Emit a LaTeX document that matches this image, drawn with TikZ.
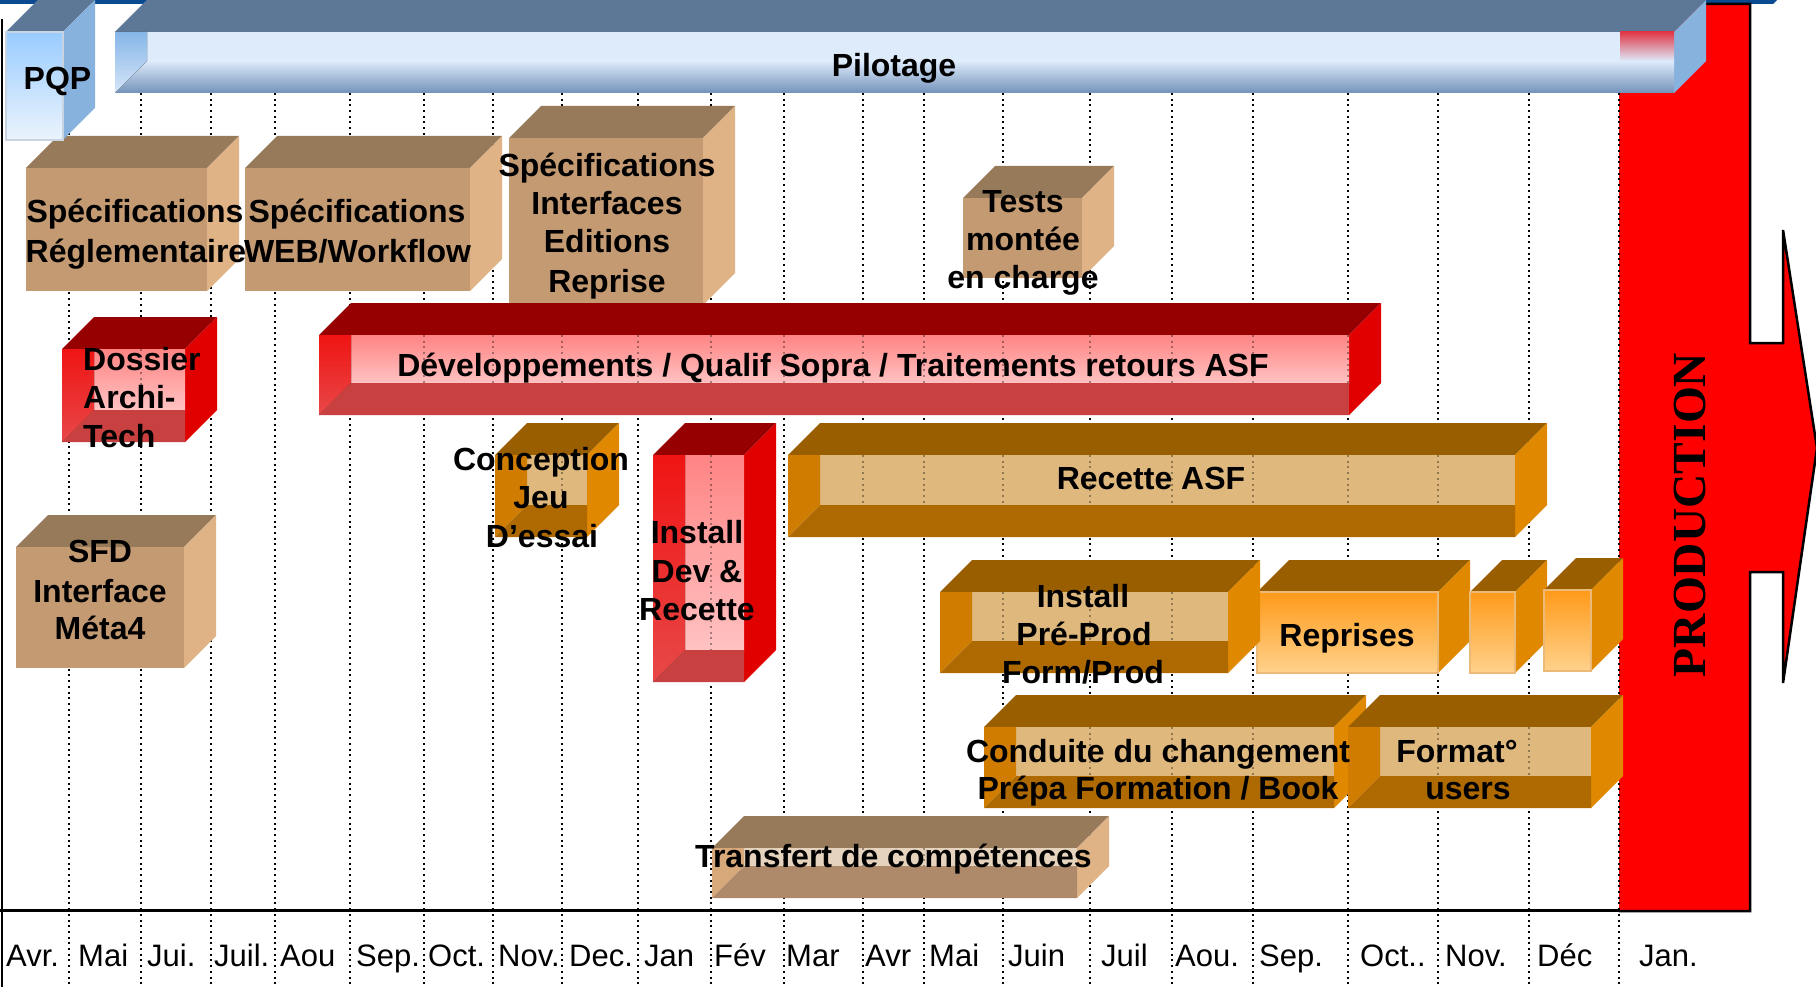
\documentclass[tikz,border=0pt]{standalone}
\usepackage{fontspec}
\setmainfont{Liberation Sans}
\newfontfamily\serifb{Liberation Serif}
\definecolor{tanF}{RGB}{196,154,115}
\definecolor{tanT}{RGB}{150,122,90}
\definecolor{tanS}{RGB}{223,179,134}
\definecolor{tanL}{RGB}{214,168,122}
\definecolor{tanB}{RGB}{174,138,106}
\definecolor{tanI}{RGB}{230,211,190}
\definecolor{redT}{RGB}{150,0,0}
\definecolor{redS}{RGB}{224,0,0}
\definecolor{redLa}{RGB}{240,20,20}
\definecolor{redLb}{RGB}{232,72,72}
\definecolor{redB}{RGB}{200,64,64}
\definecolor{pinkT}{RGB}{255,132,132}
\definecolor{pinkB}{RGB}{255,194,194}
\definecolor{orT}{RGB}{153,94,0}
\definecolor{orS}{RGB}{224,136,0}
\definecolor{orL}{RGB}{208,124,0}
\definecolor{orB}{RGB}{174,106,0}
\definecolor{orI}{RGB}{223,184,126}
\definecolor{orGa}{RGB}{255,154,26}
\definecolor{orGb}{RGB}{255,210,140}
\definecolor{orEdge}{RGB}{236,186,120}
\definecolor{bluT}{RGB}{93,120,150}
\definecolor{bluS}{RGB}{136,178,222}
\definecolor{bluFa}{RGB}{153,204,255}
\definecolor{bluFb}{RGB}{236,244,252}
\definecolor{bluI}{RGB}{221,235,251}
\definecolor{bluD}{RGB}{115,146,186}
\definecolor{bluLa}{RGB}{134,182,232}
\definecolor{bluLb}{RGB}{214,230,248}
\definecolor{bluEdge}{RGB}{200,212,226}
\definecolor{redTint}{RGB}{224,56,72}
\definecolor{navyline}{RGB}{10,74,144}
\definecolor{prodred}{RGB}{255,0,0}
\newcommand\bxd{32}
\newcommand\gridxs{69,141,211,275,350,424,493,562,638,711,784,863,924,1003,1090,1172,1253,1348,1438,1529,1619}
% solid box: x0 y0 x1 y1 front top side
\newcommand\solidbox[7]{%
  \fill[#6] (#1,#2) -- ({#1+\bxd},{#2-\bxd}) -- ({#3+\bxd},{#2-\bxd}) -- (#3,#2) -- cycle;
  \fill[#7] (#3,#2) -- ({#3+\bxd},{#2-\bxd}) -- ({#3+\bxd},{#4-\bxd}) -- (#3,#4) -- cycle;
  \fill[#5] (#1,#2) rectangle (#3,#4);}
% open tube box: x0 y0 x1 y1 top side leftwall bottomwall back
\newcommand\tubebox[9]{%
  \fill[#5] (#1,#2) -- ({#1+\bxd},{#2-\bxd}) -- ({#3+\bxd},{#2-\bxd}) -- (#3,#2) -- cycle;
  \fill[#6] (#3,#2) -- ({#3+\bxd},{#2-\bxd}) -- ({#3+\bxd},{#4-\bxd}) -- (#3,#4) -- cycle;
  \fill[#9] ({#1+\bxd},#2) rectangle (#3,{#4-\bxd});
  \begin{scope}
    \clip ({#1+\bxd},#2) rectangle (#3,{#4-\bxd});
    \foreach \gx in \gridxs {\draw[gridln,draw opacity=0.35] (\gx,#2) -- (\gx,#4);}
  \end{scope}
  \fill[#7] (#1,#2) -- ({#1+\bxd},#2) -- ({#1+\bxd},{#4-\bxd}) -- (#1,#4) -- cycle;
  \fill[#8] (#1,#4) -- ({#1+\bxd},{#4-\bxd}) -- (#3,{#4-\bxd}) -- (#3,#4) -- cycle;}
\newcommand\tanbox[4]{\solidbox{#1}{#2}{#3}{#4}{fill=tanF}{fill=tanT}{fill=tanS}}
\newcommand\redtube[4]{\tubebox{#1}{#2}{#3}{#4}{fill=redT}{fill=redS}{top color=redLa,bottom color=redLb}{fill=redB}{top color=pinkT,bottom color=pinkB}}
\newcommand\ortube[4]{\tubebox{#1}{#2}{#3}{#4}{fill=orT}{fill=orS}{fill=orL}{fill=orB}{fill=orI}}
\newcommand\orsolid[4]{\solidbox{#1}{#2}{#3}{#4}{top color=orGa,bottom color=orGb,draw=orEdge,line width=1.5pt}{fill=orT}{fill=orS}}
\begin{document}
\begin{tikzpicture}[x=1pt,y=-1pt,
  gridln/.style={line width=2pt,dash pattern=on 2pt off 3.7pt},
  lbl/.style={font=\bfseries\fontsize{32}{38}\selectfont,inner sep=0pt,anchor=base},
  lbll/.style={lbl,anchor=base west},
  mon/.style={font=\fontsize{31}{37}\selectfont,inner sep=0pt,anchor=base west}]
\useasboundingbox (0,0) rectangle (1816,987);
% top navy line
\fill[navyline] (0,0) -- (1777,0) -- (1773,4) -- (0,4) -- cycle;
% production arrow
\fill[prodred] (1619,4) -- (1750,4) -- (1750,343) -- (1783,343) -- (1783,230) -- (1817,448) -- (1783,683) -- (1783,572) -- (1750,572) -- (1750,911) -- (1619,911) -- cycle;
\draw[line width=2.5pt] (1619,4) -- (1750,4) -- (1750,343) -- (1783,343) -- (1783,230) -- (1817,448) -- (1783,683) -- (1783,572) -- (1750,572) -- (1750,911) -- (1619,911);
% month gridlines
\foreach \gx in \gridxs
  \draw[gridln] (\gx,93) -- (\gx,987);
% axes
\draw[line width=2.5pt] (2,19) -- (2,987);
\draw[line width=3pt] (0,910) -- (1619,910);
% tan boxes
\tanbox{26}{168}{207}{291}
\tanbox{245}{168}{470}{291}
\tanbox{509}{138}{703}{305}
\tanbox{963}{198}{1082}{278}
\tanbox{16}{547}{184}{668}
% red tubes
\redtube{62}{349}{185}{442}
\redtube{319}{335}{1349}{415}
\redtube{653}{455}{744}{682}
% orange tubes and solids
\ortube{495}{455}{587}{537}
\ortube{788}{455}{1515}{537}
\orsolid{1257}{592}{1438}{673}
\orsolid{1470}{592}{1515}{673}
\orsolid{1544}{590}{1591}{671}
\ortube{940}{592}{1228}{673}
\ortube{984}{727}{1334}{808}
\ortube{1348}{727}{1591}{808}
% transfert (tan tube)
\tubebox{712}{848}{1077}{898}{fill=tanT}{fill=tanS}{fill=tanL}{fill=tanB}{fill=tanI}
% pilotage
\fill[bluT] (115,32) -- (147,0) -- (1706,0) -- (1674,32) -- cycle;
\fill[bluS] (1674,32) -- (1706,0) -- (1706,61) -- (1674,93) -- cycle;
\fill[bluI] (115,32) rectangle (1674,62);
\fill[top color=bluI,bottom color=bluD] (115,61) rectangle (1674,93);
\fill[top color=bluLa,bottom color=bluLb] (115,32) -- (147,32) -- (147,61) -- (115,93) -- cycle;
\fill[top color=redTint,bottom color=bluI] (1620,32) rectangle (1674,61);
% PQP
\fill[bluT] (6,32) -- (38,0) -- (95,0) -- (63,32) -- cycle;
\fill[bluS] (63,32) -- (95,0) -- (95,108) -- (63,140) -- cycle;
\fill[top color=bluFa,bottom color=bluFb,draw=bluEdge,line width=1.5pt] (6,32) rectangle (63,140);
% texts
\node[lbl] (pqp) at (57.5,90) {PQP};
\node[lbl] (pil) at (894,77) {Pilotage};
\node[lbl] (sra) at (135,223) {Spécifications};
\node[lbl] (srb) at (136,262) {Réglementaire};
\node[lbl] (swa) at (357,223) {Spécifications};
\node[lbl] (swb) at (357.5,262) {WEB/Workflow};
\node[lbl] (sia) at (607,177) {Spécifications};
\node[lbl] (sib) at (607,215) {Interfaces};
\node[lbl] (sic) at (607,253) {Editions};
\node[lbl] (sid) at (607,292) {Reprise};
\node[lbl] (tma) at (1023,213) {Tests};
\node[lbl] (tmb) at (1023,251) {montée};
\node[lbl] (tmc) at (1023,289) {en charge};
\node[lbll] (data) at (83,370) {Dossier};
\node[lbll] (datb) at (83,408) {Archi-};
\node[lbll] (datc) at (83,447) {Tech};
\node[lbl] (dev) at (833,376) {Développements / Qualif Sopra / Traitements retours ASF};
\node[lbl] (sfa) at (100,562) {SFD};
\node[lbl] (sfb) at (100,602) {Interface};
\node[lbl] (sfc) at (100,639) {Méta4};
\node[lbl] (cja) at (541,470) {Conception};
\node[lbl] (cjb) at (541,508) {Jeu};
\node[lbl] (cjc) at (542,547) {D’essai};
\node[lbl] (ida) at (697,543) {Install};
\node[lbl] (idb) at (697,582) {Dev \&};
\node[lbl] (idc) at (697,620) {Recette};
\node[lbl] (rasf) at (1151,489) {Recette ASF};
\node[lbl] (ipa) at (1083,607) {Install};
\node[lbl] (ipb) at (1084,645) {Pré-Prod};
\node[lbl] (ipc) at (1083,683) {Form/Prod};
\node[lbl] (rep) at (1347,646) {Reprises};
\node[lbl] (cda) at (1158,762) {Conduite du changement};
\node[lbl] (cdb) at (1158,799) {Prépa Formation / Book};
\node[lbl] (fua) at (1457,762) {Format°};
\node[lbl] (fub) at (1468,799) {users};
\node[lbl] (tdc) at (893.5,867) {Transfert de compétences};
\node[rotate=90,inner sep=0pt,font=\serifb\bfseries\fontsize{47.5}{50}\selectfont] (prod) at (1690,515) {PRODUCTION};
% month labels
\node[mon] (m1) at (6,966) {Avr.};
\node[mon] (m2) at (78,966) {Mai};
\node[mon] (m3) at (147,966) {Jui.};
\node[mon] (m4) at (214,966) {Juil.};
\node[mon] (m5) at (280,966) {Aou};
\node[mon] (m6) at (356,966) {Sep.};
\node[mon] (m7) at (428,966) {Oct.};
\node[mon] (m8) at (498,966) {Nov.};
\node[mon] (m9) at (569,966) {Dec.};
\node[mon] (m10) at (644,966) {Jan};
\node[mon] (m11) at (714,966) {Fév};
\node[mon] (m12) at (786,966) {Mar};
\node[mon] (m13) at (865,966) {Avr};
\node[mon] (m14) at (929,966) {Mai};
\node[mon] (m15) at (1008,966) {Juin};
\node[mon] (m16) at (1101,966) {Juil};
\node[mon] (m17) at (1175,966) {Aou.};
\node[mon] (m18) at (1259,966) {Sep.};
\node[mon] (m19) at (1360,966) {Oct..};
\node[mon] (m20) at (1445,966) {Nov.};
\node[mon] (m21) at (1537,966) {Déc};
\node[mon] (m22) at (1639,966) {Jan.};
\end{tikzpicture}
\end{document}
